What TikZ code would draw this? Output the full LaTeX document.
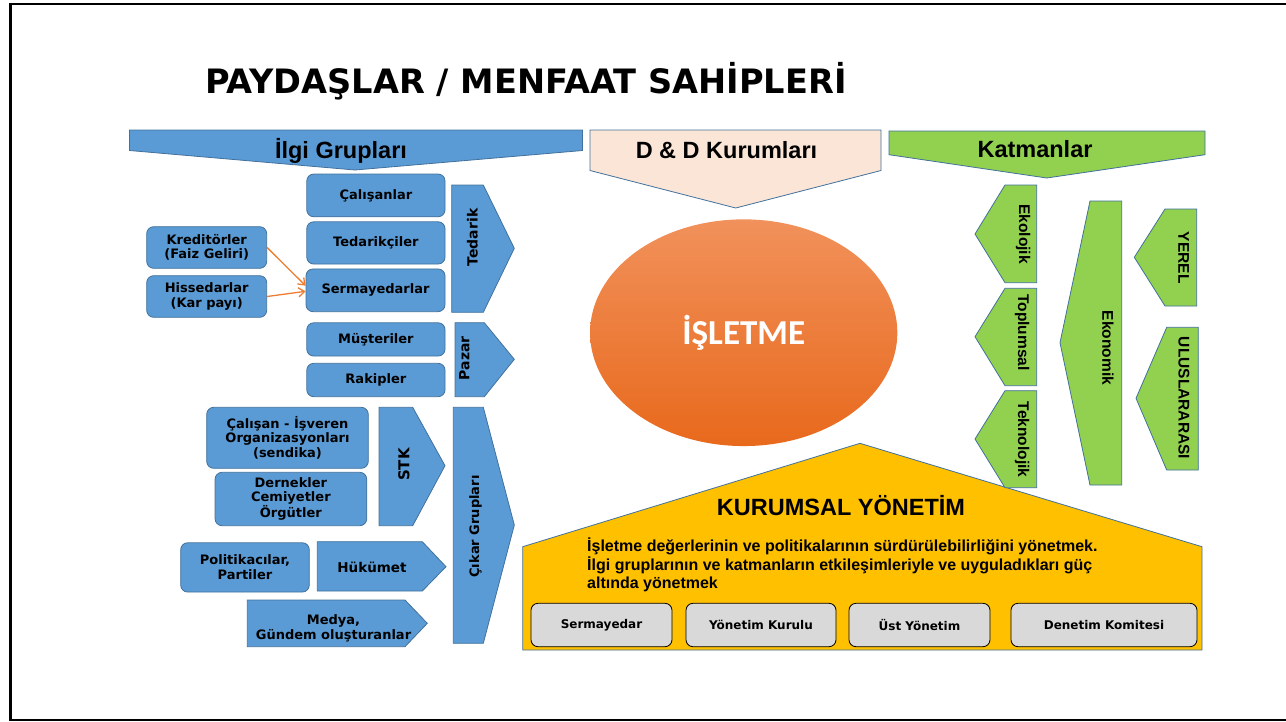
\documentclass[tikz,border=0pt]{standalone}
\usepackage{fontspec}
\setmainfont{DejaVu Sans}
\newfontfamily\arialf{Liberation Sans}
\newfontfamily\calibf{Carlito}
\usetikzlibrary{shapes.geometric,calc,arrows.meta}
\definecolor{bluefill}{HTML}{5B9BD5}
\definecolor{blueline}{HTML}{41719C}
\definecolor{peach}{HTML}{FBE5D6}
\definecolor{greenfill}{HTML}{92D050}
\definecolor{goldfill}{HTML}{FFC000}
\definecolor{grayfill}{HTML}{D9D9D9}
\definecolor{orangeln}{HTML}{ED7D31}
\definecolor{ortop}{HTML}{F1915B}
\definecolor{orbot}{HTML}{E8691C}
\tikzset{
  bbox/.style={draw=blueline, fill=bluefill, rounded corners=7pt, line width=0.8pt, align=center,
    font=\bfseries\fontsize{13}{14.6}\selectfont, inner sep=0pt},
  shapeblue/.style={draw=blueline, fill=bluefill, line width=0.8pt},
  shapegreen/.style={draw=blueline, fill=greenfill, line width=0.8pt},
  vtxt/.style={font=\bfseries\fontsize{14}{16}\selectfont, rotate=90, inner sep=0pt},
  htxt/.style={font=\bfseries\fontsize{13.5}{15}\selectfont, align=center, inner sep=0pt},
  gtxt/.style={font=\arialf\bfseries\fontsize{15.5}{17}\selectfont, rotate=-90, inner sep=0pt},
  hdr/.style={font=\arialf\bfseries\fontsize{23.5}{26}\selectfont, anchor=base, inner sep=0pt},
  desc/.style={font=\arialf\bfseries\fontsize{16}{18}\selectfont, anchor=base west, inner sep=0pt},
  graybox/.style={draw=black, fill=grayfill, rounded corners=7pt, line width=0.8pt,
    font=\bfseries\fontsize{12}{14}\selectfont, inner sep=0pt, minimum height=43.4pt},
  oarrow/.style={draw=orangeln, line width=1.3pt, -{Straight Barb[length=6pt,width=9pt]}},
}
\begin{document}
\begin{tikzpicture}[x=1pt, y=-1pt]
\useasboundingbox (0,0) rectangle (1286,721);
% frame
\draw[line width=2.6pt] (1300,4) -- (10.7,4) -- (10.7,720) -- (1300,720);
% title
\node[anchor=base west, inner sep=0pt, font=\bfseries\fontsize{33.6}{36}\selectfont] (title) at (205,93) {PAYDAŞLAR / MENFAAT SAHİPLERİ};

% banners
\draw[shapeblue] (129.5,130) -- (582.5,130) -- (582.5,150.5) -- (355,170) -- (129.5,150.5) -- cycle;
\node[hdr] (ilgi) at (341,158) {İlgi Grupları};
\draw[draw=blueline, fill=peach, line width=0.8pt] (590,130) -- (881,130) -- (881,170.5) -- (735.7,208) -- (590,170.5) -- cycle;
\node[hdr] (dd) at (726.5,158) {D \& D Kurumları};
\draw[shapegreen] (889,131) -- (1205,131) -- (1205,154.7) -- (1046.7,178) -- (889,154.7) -- cycle;
\node[hdr] (katm) at (1035,157) {Katmanlar};

% left boxes
\node[bbox, minimum width=138.3pt, minimum height=42.7pt] (cal) at (375.9,195.4) {Çalışanlar};
\node[bbox, minimum width=138.3pt, minimum height=42.3pt] (tdk) at (375.9,242.9) {Tedarikçiler};
\node[bbox, minimum width=139pt, minimum height=42.7pt] (serm) at (375.5,290.3) {Sermayedarlar};
\node[bbox, minimum width=120pt, minimum height=41.6pt] (kred) at (206.7,247.5) {Kreditörler\\(Faiz Geliri)};
\node[bbox, minimum width=120pt, minimum height=41.6pt] (hiss) at (206.7,296.5) {Hissedarlar\\(Kar payı)};
\node[bbox, minimum width=138.3pt, minimum height=33.3pt] (mus) at (375.9,339.4) {Müşteriler};
\node[bbox, minimum width=138.3pt, minimum height=33.4pt] (rak) at (375.9,380) {Rakipler};
\node[bbox, minimum width=161.6pt, minimum height=61pt] (ciso) at (287.5,437.8) {Çalışan - İşveren\\Organizasyonları\\(sendika)};
\node[bbox, minimum width=151.7pt, minimum height=53.4pt] (dern) at (290.9,499) {Dernekler\\Cemiyetler\\Örgütler};
\node[bbox, minimum width=128.6pt, minimum height=49.3pt] (pol) at (245,567.4) {Politikacılar,\\Partiler};

\draw[oarrow] (kred.east) -- ($(serm.west)+(0,-4.6)$);
\draw[oarrow] (hiss.east) -- ($(serm.west)+(0,1)$);

% chevrons
\draw[shapeblue] (451.7,185) -- (483.3,185) -- (514.3,248.3) -- (483.3,312.3) -- (451.7,312.3) -- cycle;
\node[vtxt] (tedarik) at (472.5,237.5) {Tedarik};
\draw[shapeblue] (455,322.7) -- (484.3,322.7) -- (514.3,359.3) -- (484.3,396.7) -- (455,396.7) -- cycle;
\node[vtxt] (pazar) at (464.3,358.3) {Pazar};
\draw[shapeblue] (379,407.3) -- (412.7,407.3) -- (445,465.7) -- (412.7,525.7) -- (379,525.7) -- cycle;
\node[vtxt, font=\bfseries\fontsize{15}{17}\selectfont] (stk) at (404,464.5) {STK};
\draw[shapeblue] (453.3,407.3) -- (483.3,407.3) -- (514.3,525) -- (483.3,643.3) -- (453.3,643.3) -- cycle;
\node[vtxt, font=\bfseries\fontsize{13}{15}\selectfont] (cikar) at (475.5,526.5) {Çıkar Grupları};
\draw[shapeblue] (317.3,541.7) -- (422.3,541.7) -- (446,566.7) -- (422.3,591) -- (317.3,591) -- cycle;
\node[htxt] (hukumet) at (372,567) {Hükümet};
\draw[shapeblue] (247.3,600) -- (405,600) -- (427.3,623.3) -- (405,646.7) -- (247.3,646.7) -- cycle;
\node[htxt, font=\bfseries\fontsize{13}{15}\selectfont] (medya) at (333.5,628) {Medya,\\Gündem oluşturanlar};

% house
\draw[draw=blueline, fill=goldfill, line width=0.8pt] (522.7,650) -- (522.7,546.7) -- (860,443.3) -- (1202,546.7) -- (1202,650) -- cycle;
\node[hdr] (kurumsal) at (841,515) {KURUMSAL YÖNETİM};
\node[desc] (d1) at (587,551.7) {İşletme değerlerinin ve politikalarının sürdürülebilirliğini yönetmek.};
\node[desc] (d2) at (587,570) {İlgi gruplarının ve katmanların etkileşimleriyle ve uyguladıkları güç};
\node[desc] (d3) at (587,588) {altında yönetmek};
\node[graybox, minimum width=141pt] (gs) at (601.5,625) {Sermayedar};
\node[graybox, minimum width=150pt] (gy) at (761,625) {Yönetim Kurulu};
\node[graybox, minimum width=141pt] (gu) at (919.5,625) {Üst Yönetim};
\node[graybox, minimum width=186pt] (gd) at (1104,625) {Denetim Komitesi};

% green
\draw[shapegreen] (1036.7,185) -- (1005,185) -- (975,234) -- (1005,282.7) -- (1036.7,282.7) -- cycle;
\node[gtxt] (eko) at (1023,234) {Ekolojik};
\draw[shapegreen] (1036.7,288.3) -- (1005,288.3) -- (975,336.7) -- (1005,385.7) -- (1036.7,385.7) -- cycle;
\node[gtxt] (top) at (1022,332.5) {Toplumsal};
\draw[shapegreen] (1036.7,390.7) -- (1005,390.7) -- (975,439) -- (1005,487.7) -- (1036.7,487.7) -- cycle;
\node[gtxt] (tek) at (1022,439.5) {Teknolojik};
\draw[shapegreen] (1121.7,201) -- (1090,201) -- (1060,342.7) -- (1090,485) -- (1121.7,485) -- cycle;
\node[gtxt] (ekon) at (1108,348) {Ekonomik};
\draw[shapegreen] (1196.7,209) -- (1165,209) -- (1134.3,257.3) -- (1165,306) -- (1196.7,306) -- cycle;
\node[gtxt] (yerel) at (1183.8,257.8) {YEREL};
\draw[shapegreen] (1198.3,327.3) -- (1166.7,327.3) -- (1136,398.3) -- (1166.7,470) -- (1198.3,470) -- cycle;
\node[gtxt] (ulus) at (1184,398) {ULUSLARARASI};

% ellipse
\node[ellipse, top color=ortop, bottom color=orbot, minimum width=307.3pt, minimum height=226.7pt, inner sep=0pt,
  text=white, font=\calibf\bfseries\fontsize{35}{38}\selectfont] (isl) at (743.7,332.7) {İŞLETME};
\end{tikzpicture}
\end{document}
